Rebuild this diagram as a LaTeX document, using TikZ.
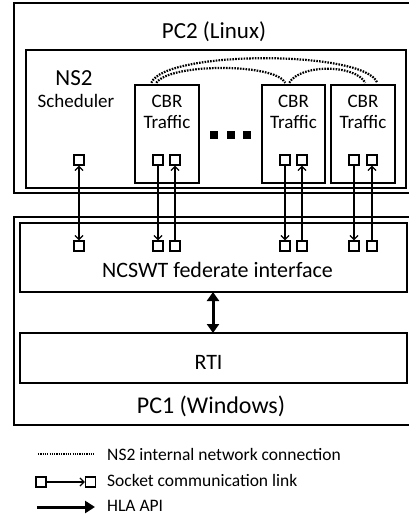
\documentclass[tikz,border=0pt]{standalone}
\usepackage{fontspec}
\setmainfont{Carlito}
\usetikzlibrary{arrows.meta,calc}
\begin{document}
\begin{tikzpicture}[x=1pt,y=-1pt,
  outerbox/.style={draw, line width=1.8pt, inner sep=0pt},
  innerbox/.style={draw, line width=1.4pt, inner sep=0pt},
  sq/.style={draw, line width=1.2pt, minimum size=10pt, inner sep=0pt, fill=white},
  bigtxt/.style={inner sep=0pt, anchor=base, font=\fontsize{23}{27}\selectfont},
  midtxt/.style={inner sep=0pt, anchor=base, font=\fontsize{19}{22}\selectfont},
  legtxt/.style={inner sep=0pt, anchor=base west, font=\fontsize{17.5}{20}\selectfont},
  sock/.style={line width=1.3pt, -{Straight Barb[length=4pt,width=8pt]}},
  sockboth/.style={line width=1.3pt, {Straight Barb[length=4pt,width=8pt]}-{Straight Barb[length=4pt,width=8pt]}},
  hla/.style={line width=3pt, -{Triangle[length=10pt,width=12pt]}},
  ns/.style={line width=2.2pt, dash pattern=on 1.6pt off 1.2pt},
]
\useasboundingbox (0,0) rectangle (409,520);
\clip (0,0) rectangle (409,520);

% PC2
\node[outerbox, minimum width=401pt, minimum height=190pt] (pc2) at (214.5,98) {};
\node[innerbox, minimum width=380pt, minimum height=138pt] (ns2) at (216,119) {};
\node[bigtxt] (pc2t) at (214,38) {PC2 (Linux)};
\node[bigtxt] (ns2t) at (74,85) {NS2};
\node[midtxt] (sched) at (76,107) {Scheduler};

\node[innerbox, minimum width=64pt, minimum height=98pt] (cbr1) at (167,134) {};
\node[innerbox, minimum width=63pt, minimum height=98pt] (cbr2) at (293.5,134) {};
\node[innerbox, minimum width=64pt, minimum height=98pt] (cbr3) at (363,134) {};
\node[midtxt] (cbr1a) at (167,107) {CBR};
\node[midtxt] (cbr1b) at (167,128) {Traffic};
\node[midtxt] (cbr2a) at (293.5,107) {CBR};
\node[midtxt] (cbr2b) at (293.5,128) {Traffic};
\node[midtxt] (cbr3a) at (363,107) {CBR};
\node[midtxt] (cbr3b) at (363,128) {Traffic};
\node[fill=black, minimum size=8pt, inner sep=0pt] (dot1) at (214,135) {};
\node[fill=black, minimum size=8pt, inner sep=0pt] (dot2) at (231,135) {};
\node[fill=black, minimum size=8pt, inner sep=0pt] (dot3) at (247,135) {};

% PC1
\node[outerbox, minimum width=401pt, minimum height=208pt] (pc1) at (214.5,321) {};
\node[innerbox, minimum width=387pt, minimum height=69pt] (ncswt) at (213.5,257.5) {};
\node[innerbox, minimum width=387pt, minimum height=50pt] (rti) at (213.5,358) {};
\node[bigtxt, font=\fontsize{22}{26}\selectfont] (ncswtt) at (217.5,277) {NCSWT federate interface};
\node[bigtxt, font=\fontsize{22}{26}\selectfont] (rtit) at (208.5,369) {RTI};
\node[bigtxt, font=\fontsize{24}{28}\selectfont] (pc1t) at (211,413) {PC1 (Windows)};

% sockets
\node[sq] (s0t) at (79,160) {};   \node[sq] (s0d) at (79,246) {};
\node[sq] (s1at) at (158,160) {}; \node[sq] (s1ad) at (158,246) {};
\node[sq] (s1bt) at (175,160) {}; \node[sq] (s1bd) at (175,246) {};
\node[sq] (s2at) at (285,160) {}; \node[sq] (s2ad) at (285,246) {};
\node[sq] (s2bt) at (302,160) {}; \node[sq] (s2bd) at (302,246) {};
\node[sq] (s3at) at (354,160) {}; \node[sq] (s3ad) at (354,246) {};
\node[sq] (s3bt) at (372,160) {}; \node[sq] (s3bd) at (372,246) {};
\draw[sockboth] (s0t) -- (s0d);
\draw[sock] (s1at) -- (s1ad);
\draw[sock] (s1bd) -- (s1bt);
\draw[sock] (s2at) -- (s2ad);
\draw[sock] (s2bd) -- (s2bt);
\draw[sock] (s3at) -- (s3ad);
\draw[sock] (s3bd) -- (s3bt);

% HLA between NCSWT and RTI
\draw[line width=3pt, {Triangle[length=9pt,width=12pt]}-{Triangle[length=9pt,width=12pt]}] (213,292) -- (213,333);

% NS2 internal connections
\coordinate (a1) at ($(cbr1.north west)+(17,-1.5)$);
\coordinate (a2) at ($(cbr1.north west)+(22,-1.5)$);
\coordinate (b1) at ($(cbr2.north west)+(24,-1.5)$);
\coordinate (b2) at ($(cbr2.north west)+(28,-1.5)$);
\coordinate (c1) at ($(cbr3.north west)+(35,-1.5)$);
\coordinate (c2) at ($(cbr3.north west)+(47,-1.5)$);
\draw[ns] (a1) .. controls (165,50) and (365,50) .. (c2);
\draw[ns] (a2) .. controls (170,63) and (275,63) .. (b1);
\draw[ns] (b2) .. controls (300,64) and (355,64) .. (c1);

% legend
\coordinate (l1a) at (38,454);
\coordinate (l1b) at (95,454);
\draw[line width=1.3pt, dash pattern=on 1.2pt off 1.1pt] (l1a) -- (l1b);
\node[legtxt] (leg1) at (107,460) {NS2 internal network connection};
\node[sq] (lsa) at (41,482) {};
\node[sq] (lsb) at (90.5,482) {};
\draw[sock] (lsa) -- (lsb);
\node[legtxt] (leg2) at (107,486) {Socket communication link};
\coordinate (l3a) at (37,507);
\coordinate (l3b) at (95,507);
\draw[hla] (l3a) -- (l3b);
\node[legtxt] (leg3) at (107,511) {HLA API};
\end{tikzpicture}
\end{document}
